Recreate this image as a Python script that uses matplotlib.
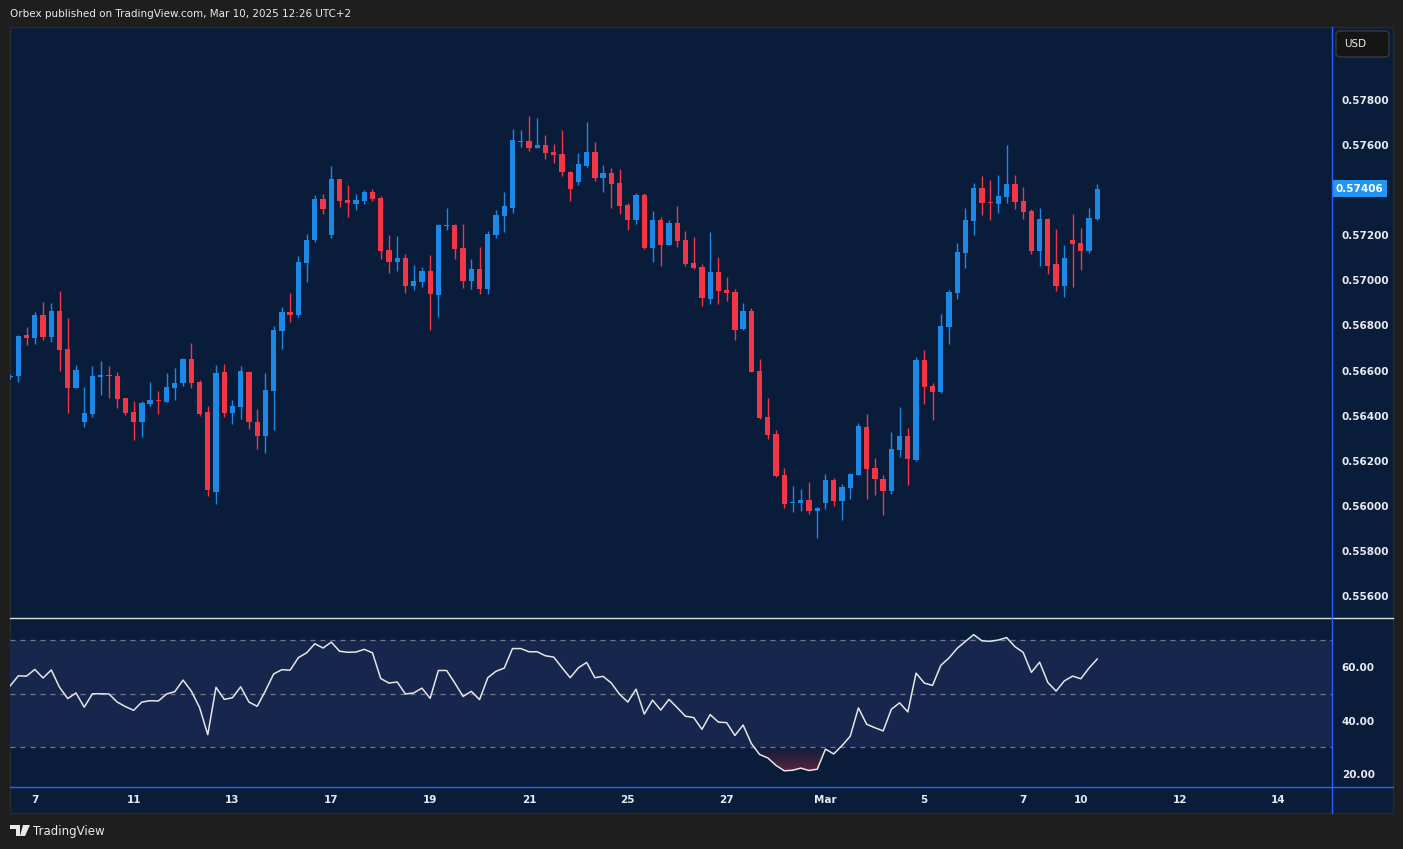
import numpy as np
import matplotlib.pyplot as plt
from matplotlib.patches import Rectangle, FancyBboxPatch, Polygon
from matplotlib.lines import Line2D

W, H = 1403, 849

# NZD/USD 4H candles, index 0 = last candles of Feb 6 ... index 132 = Mar 10
opens = [0.56572, 0.56576, 0.56758, 0.56746, 0.56847, 0.56750, 0.56864, 0.56696, 0.56524, 0.56373,
         0.56409, 0.56573, 0.56580, 0.56576, 0.56478, 0.56416, 0.56373, 0.56453, 0.56471, 0.56462,
         0.56525, 0.56543, 0.56651, 0.56550, 0.56416, 0.56063, 0.56594, 0.56412, 0.56439, 0.56594,
         0.56372, 0.56310, 0.56509, 0.56776, 0.56860, 0.56847, 0.57077, 0.57179, 0.57361, 0.57201,
         0.57450, 0.57357, 0.57339, 0.57352, 0.57392, 0.57365, 0.57135, 0.57082, 0.57099, 0.56975,
         0.56993, 0.57042, 0.56935, 0.57241, 0.57246, 0.57144, 0.56999, 0.57051, 0.56963, 0.57203,
         0.57287, 0.57322, 0.57615, 0.57618, 0.57589, 0.57600, 0.57569, 0.57561, 0.57481, 0.57436,
         0.57507, 0.57569, 0.57454, 0.57476, 0.57432, 0.57334, 0.57268, 0.57379, 0.57144, 0.57268,
         0.57157, 0.57255, 0.57179, 0.57077, 0.57059, 0.56918, 0.57037, 0.56957, 0.56949, 0.56784,
         0.56864, 0.56598, 0.56394, 0.56319, 0.56137, 0.56013, 0.56013, 0.56026, 0.55977, 0.56013,
         0.56115, 0.56022, 0.56079, 0.56137, 0.56350, 0.56168, 0.56119, 0.56066, 0.56248, 0.56310,
         0.56204, 0.56647, 0.56533, 0.56506, 0.56793, 0.56944, 0.57122, 0.57263, 0.57410, 0.57348,
         0.57339, 0.57370, 0.57428, 0.57352, 0.57308, 0.57130, 0.57272, 0.57073, 0.56975, 0.57179,
         0.57166, 0.57130, 0.57272]
highs = [0.56585, 0.56758, 0.56793, 0.56860, 0.56904, 0.56900, 0.56953, 0.56833, 0.56626, 0.56528,
         0.56621, 0.56643, 0.56621, 0.56594, 0.56480, 0.56465, 0.56465, 0.56550, 0.56509, 0.56590,
         0.56613, 0.56655, 0.56722, 0.56559, 0.56443, 0.56626, 0.56630, 0.56470, 0.56621, 0.56598,
         0.56430, 0.56590, 0.56798, 0.56882, 0.56944, 0.57108, 0.57206, 0.57379, 0.57383, 0.57507,
         0.57450, 0.57423, 0.57383, 0.57401, 0.57405, 0.57374, 0.57201, 0.57197, 0.57117, 0.57068,
         0.57059, 0.57113, 0.57250, 0.57321, 0.57250, 0.57250, 0.57095, 0.57148, 0.57219, 0.57312,
         0.57392, 0.57671, 0.57667, 0.57729, 0.57720, 0.57645, 0.57605, 0.57667, 0.57485, 0.57565,
         0.57702, 0.57614, 0.57512, 0.57498, 0.57494, 0.57343, 0.57388, 0.57388, 0.57308, 0.57281,
         0.57268, 0.57330, 0.57219, 0.57192, 0.57073, 0.57215, 0.57104, 0.57015, 0.56962, 0.56900,
         0.56878, 0.56651, 0.56478, 0.56337, 0.56168, 0.56088, 0.56075, 0.56106, 0.55995, 0.56141,
         0.56124, 0.56097, 0.56146, 0.56368, 0.56407, 0.56212, 0.56137, 0.56328, 0.56439, 0.56345,
         0.56660, 0.56691, 0.56546, 0.56851, 0.56957, 0.57166, 0.57321, 0.57432, 0.57463, 0.57445,
         0.57467, 0.57600, 0.57467, 0.57414, 0.57317, 0.57321, 0.57277, 0.57228, 0.57157, 0.57294,
         0.57232, 0.57321, 0.57428]
lows = [0.56563, 0.56551, 0.56713, 0.56718, 0.56736, 0.56727, 0.56599, 0.56413, 0.56522, 0.56351,
        0.56395, 0.56492, 0.56480, 0.56435, 0.56404, 0.56294, 0.56307, 0.56443, 0.56409, 0.56460,
        0.56471, 0.56530, 0.56524, 0.56400, 0.56044, 0.56010, 0.56394, 0.56363, 0.56385, 0.56341,
        0.56252, 0.56235, 0.56337, 0.56696, 0.56816, 0.56838, 0.56993, 0.57170, 0.57294, 0.57188,
        0.57325, 0.57281, 0.57312, 0.57339, 0.57352, 0.57095, 0.57033, 0.57042, 0.56944, 0.56957,
        0.56971, 0.56780, 0.56838, 0.57224, 0.57095, 0.56968, 0.56963, 0.56941, 0.56941, 0.57189,
        0.57216, 0.57300, 0.57592, 0.57575, 0.57588, 0.57538, 0.57521, 0.57463, 0.57352, 0.57423,
        0.57505, 0.57441, 0.57392, 0.57321, 0.57294, 0.57224, 0.57250, 0.57139, 0.57082, 0.57064,
        0.57155, 0.57148, 0.57064, 0.57050, 0.56886, 0.56895, 0.56895, 0.56909, 0.56736, 0.56782,
        0.56592, 0.56385, 0.56297, 0.56130, 0.55991, 0.55973, 0.55977, 0.55964, 0.55858, 0.55986,
        0.55999, 0.55937, 0.56031, 0.56135, 0.56031, 0.56048, 0.55960, 0.56053, 0.56217, 0.56093,
        0.56199, 0.56452, 0.56381, 0.56502, 0.56718, 0.56918, 0.57055, 0.57201, 0.57290, 0.57268,
        0.57299, 0.57343, 0.57317, 0.57272, 0.57117, 0.57064, 0.57028, 0.56953, 0.56926, 0.56971,
        0.57046, 0.57122, 0.57268]
closes = [0.56576, 0.56753, 0.56746, 0.56847, 0.56750, 0.56864, 0.56691, 0.56524, 0.56604, 0.56412,
          0.56576, 0.56580, 0.56577, 0.56475, 0.56413, 0.56373, 0.56456, 0.56470, 0.56466, 0.56528,
          0.56546, 0.56651, 0.56546, 0.56409, 0.56070, 0.56590, 0.56412, 0.56443, 0.56598, 0.56372,
          0.56310, 0.56514, 0.56780, 0.56860, 0.56847, 0.57082, 0.57179, 0.57361, 0.57317, 0.57450,
          0.57352, 0.57343, 0.57357, 0.57392, 0.57361, 0.57130, 0.57082, 0.57099, 0.56975, 0.56997,
          0.57042, 0.56940, 0.57246, 0.57246, 0.57139, 0.56999, 0.57051, 0.56963, 0.57206, 0.57290,
          0.57330, 0.57623, 0.57618, 0.57589, 0.57600, 0.57565, 0.57556, 0.57481, 0.57405, 0.57516,
          0.57569, 0.57454, 0.57476, 0.57427, 0.57330, 0.57268, 0.57379, 0.57144, 0.57268, 0.57157,
          0.57255, 0.57175, 0.57073, 0.57055, 0.56922, 0.57037, 0.56953, 0.56944, 0.56780, 0.56864,
          0.56594, 0.56390, 0.56314, 0.56132, 0.56008, 0.56017, 0.56026, 0.55977, 0.55991, 0.56115,
          0.56022, 0.56084, 0.56141, 0.56354, 0.56164, 0.56119, 0.56066, 0.56252, 0.56310, 0.56208,
          0.56647, 0.56528, 0.56506, 0.56798, 0.56949, 0.57126, 0.57268, 0.57410, 0.57343, 0.57343,
          0.57374, 0.57428, 0.57348, 0.57303, 0.57130, 0.57272, 0.57064, 0.56975, 0.57099, 0.57161,
          0.57130, 0.57277, 0.57406]
rsi = [52.9, 56.7, 56.6, 59.1, 55.9, 58.9, 52.4, 48.2, 50.3, 45.0,
       50.0, 50.0, 49.9, 46.9, 45.2, 43.8, 46.9, 47.4, 47.3, 49.9,
       50.8, 55.1, 51.0, 44.9, 34.7, 52.4, 47.9, 48.5, 52.6, 46.9,
       45.3, 51.1, 57.4, 59.0, 58.8, 63.5, 65.3, 68.7, 67.1, 69.3,
       65.9, 65.5, 65.6, 66.6, 65.3, 55.7, 54.0, 54.4, 49.9, 50.3,
       52.1, 48.3, 58.7, 58.7, 54.0, 49.0, 50.9, 47.8, 56.0, 58.4,
       59.6, 66.9, 66.9, 65.7, 65.7, 64.2, 63.7, 59.8, 56.0, 59.7,
       61.7, 56.0, 56.5, 54.0, 49.8, 46.9, 51.7, 42.4, 47.6, 43.9,
       47.9, 44.8, 41.6, 41.1, 36.7, 42.2, 39.4, 39.2, 34.4, 38.3,
       31.4, 27.3, 26.0, 23.2, 21.2, 21.4, 22.2, 21.3, 21.8, 29.3,
       27.5, 30.6, 34.1, 44.7, 38.6, 37.3, 36.1, 44.2, 46.6, 43.2,
       57.7, 54.0, 53.1, 60.6, 63.4, 67.0, 69.6, 72.1, 69.8, 69.6,
       70.1, 71.0, 67.6, 65.5, 58.0, 61.8, 54.2, 51.0, 54.8, 56.6,
       55.6, 59.6, 63.0]

tick_pos = [3, 15, 27, 39, 51, 63, 75, 87, 99, 111, 123, 130, 142, 154]
tick_lab = ['7', '11', '13', '17', '19', '21', '25', '27', 'Mar', '5', '7', '10', '12', '14']
# 0.57400 is hidden behind the last-price label on the original
price_ticks = [0.556, 0.558, 0.560, 0.562, 0.564, 0.566, 0.568, 0.570, 0.572, 0.576, 0.578]
rsi_ticks = [20, 40, 60]

bg = '#091d3b'
blue = '#1e88e5'
red = '#f23645'
txt = '#e8eaf0'
line_blue = '#2962ff'

def fx(x):
    return x / W

def fy(y):
    return 1 - y / H

fig = plt.figure(figsize=(W / 100, H / 100), dpi=100, facecolor='#1e1e1e')
fig.patches.append(Rectangle((fx(10), fy(813)), fx(1393) - fx(10), fy(27) - fy(813),
                             transform=fig.transFigure, facecolor=bg, edgecolor='#2a2a2a', lw=1, zorder=-5))

ax = fig.add_axes([fx(10), fy(618), fx(1332) - fx(10), fy(27) - fy(618)])
ax2 = fig.add_axes([fx(10), fy(787), fx(1332) - fx(10), fy(618) - fy(787)])
for a in (ax, ax2):
    a.set_facecolor('none')
    for s in a.spines.values():
        s.set_visible(False)
    a.set_xlim(-0.012, 160.5)

# candles
o = np.array(opens); h = np.array(highs); l = np.array(lows); c = np.array(closes)
x = np.arange(len(c))
cols = np.where(c >= o, blue, red)
ax.vlines(x, l, h, colors=cols, lw=1.0, zorder=2)
ax.bar(x, np.maximum(np.abs(c - o), 0.000035), bottom=np.minimum(o, c), width=0.64,
       color=cols, linewidth=0, zorder=3)
ax.set_ylim(0.555029, 0.581237)
ax.set_xticks([])
ax.set_yticks(price_ticks)
ax.set_yticklabels([f'{p:.5f}' for p in price_ticks])
ax.yaxis.tick_right()
ax.tick_params(axis='y', length=0, pad=7, labelsize=7.5, labelcolor=txt)

# last price label
ax.annotate(f'{closes[-1]:.5f}', xy=(1.0, closes[-1]), xycoords=('axes fraction', 'data'),
            xytext=(4, 0), textcoords='offset pixels', va='center', ha='left',
            fontsize=7.5, color='white', fontweight='bold',
            bbox=dict(boxstyle='square,pad=0.35', fc='#2196f3', ec='none'))

# RSI pane
r = np.array(rsi)
ax2.axhspan(30, 70, color='#17264d', lw=0, zorder=0)
for lev in (70, 50, 30):
    ax2.axhline(lev, color='#8a8f9c', lw=0.9, ls=(0, (4, 4)), alpha=0.8, zorder=1)
poly = ax2.fill_between(x, r, 30, where=r < 30, interpolate=True, color='none', lw=0)
grad = np.zeros((100, 1, 4))
grad[..., 0] = 242 / 255; grad[..., 1] = 54 / 255; grad[..., 2] = 69 / 255
grad[:, 0, 3] = np.linspace(0.45, 0.0, 100)
im = ax2.imshow(grad, extent=[85, 105, 18, 30], origin='lower', aspect='auto', zorder=2)
im.set_clip_path(poly.get_paths()[0], transform=ax2.transData)
ax2.fill_between(x, r, 70, where=r > 70, interpolate=True, color='#089981', alpha=0.25, lw=0)
ax2.plot(x, r, color='#e6e6e6', lw=1.1, zorder=3)
ax2.set_ylim(15.14, 78.32)
ax2.set_xlim(-0.012, 160.5)
ax2.set_yticks(rsi_ticks)
ax2.set_yticklabels([f'{v:.2f}' for v in rsi_ticks])
ax2.yaxis.tick_right()
ax2.tick_params(axis='y', length=0, pad=7, labelsize=7.5, labelcolor=txt)
ax2.set_xticks(tick_pos)
ax2.set_xticklabels(tick_lab)
ax2.tick_params(axis='x', length=0, pad=6, labelsize=7.5, labelcolor=txt)
for lab in ax.get_yticklabels() + ax2.get_yticklabels() + ax2.get_xticklabels():
    lab.set_fontweight('bold')

# separators
fig.add_artist(Line2D([fx(10), fx(1393)], [fy(618), fy(618)], color='#dadada', lw=1))
fig.add_artist(Line2D([fx(10), fx(1393)], [fy(787), fy(787)], color=line_blue, lw=1))
fig.add_artist(Line2D([fx(1332), fx(1332)], [fy(27), fy(813)], color=line_blue, lw=1))

# currency box
fig.patches.append(FancyBboxPatch((fx(1336), fy(57)), fx(1389) - fx(1336), fy(31) - fy(57),
                                  boxstyle='round,pad=0,rounding_size=0.004', transform=fig.transFigure,
                                  fc='#151515', ec='#3a3a3a', lw=1))
fig.text(fx(1344), fy(44), 'USD', color=txt, fontsize=7.5, va='center', ha='left')

# header / footer
fig.text(fx(10), fy(14), 'Orbex published on TradingView.com, Mar 10, 2025 12:26 UTC+2',
         color=txt, fontsize=7.5, va='center', ha='left')
fig.patches.append(Polygon([[fx(10), fy(825)], [fx(20), fy(825)], [fx(20), fy(836)], [fx(16), fy(836)],
                            [fx(16), fy(829)], [fx(10), fy(829)]], closed=True,
                           transform=fig.transFigure, fc=txt, ec='none'))
fig.patches.append(Polygon([[fx(23), fy(825)], [fx(30), fy(825)], [fx(25), fy(836)], [fx(20), fy(836)]],
                           closed=True, transform=fig.transFigure, fc=txt, ec='none'))
fig.text(fx(33), fy(831), 'TradingView', color=txt, fontsize=8.5, va='center', ha='left')

fig.savefig('out.png', dpi=100, facecolor=fig.get_facecolor())
